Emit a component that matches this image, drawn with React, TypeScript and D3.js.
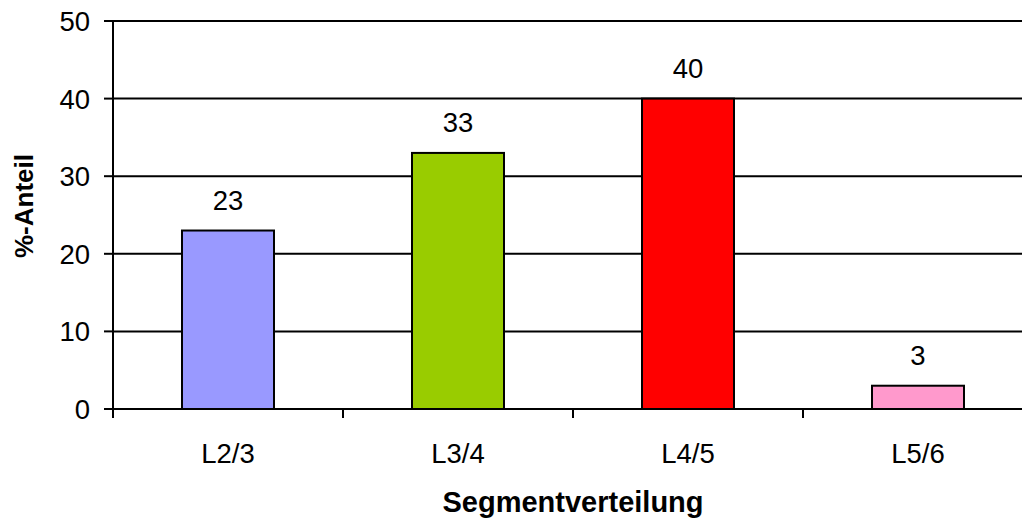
import React from "react";
import * as d3 from "d3";

const categories = ["L2/3", "L3/4", "L4/5", "L5/6"];
const values = [23, 33, 40, 3];
const barColors = ["#9999FF", "#99CC00", "#FF0000", "#FF99CC"];
const yTicks = [0, 10, 20, 30, 40, 50];

const W = 1022;
const H = 519;
const left = 113;
const right = 1033;
const top = 21;
const bottom = 409;
const font = "'Liberation Sans', Arial, sans-serif";
const fs = 27.5;

export default function App() {
  const x = d3.scaleBand<string>().domain(categories).range([left, right]).paddingInner(0.6).paddingOuter(0.3);
  const band = d3.scaleBand<string>().domain(categories).range([left, right]);
  const y = d3.scaleLinear().domain([0, 50]).range([bottom, top]);

  return (
    <svg width={W} height={H} style={{ position: "absolute", left: 0, top: 0 }}>
      <rect width={W} height={H} fill="#fff" />
      {yTicks.map((t) => (
        <g key={t}>
          <line x1={left} x2={right} y1={y(t)} y2={y(t)} stroke="#000" strokeWidth={2} />
          <line x1={104} x2={left} y1={y(t)} y2={y(t)} stroke="#000" strokeWidth={2} />
          <text x={90} y={y(t) + 10} textAnchor="end" fontFamily={font} fontSize={fs} fill="#000">
            {t}
          </text>
        </g>
      ))}
      {categories.map((c, i) => (
        <g key={c}>
          <rect
            x={x(c)!}
            y={y(values[i])}
            width={x.bandwidth()}
            height={bottom - y(values[i])}
            fill={barColors[i]}
            stroke="#000"
            strokeWidth={2}
          />
          <text
            x={x(c)! + x.bandwidth() / 2}
            y={y(values[i]) - 21}
            textAnchor="middle"
            fontFamily={font}
            fontSize={fs}
            fill="#000"
          >
            {values[i]}
          </text>
          <text
            x={band(c)! + band.bandwidth() / 2}
            y={463}
            textAnchor="middle"
            fontFamily={font}
            fontSize={fs}
            fill="#000"
          >
            {c}
          </text>
        </g>
      ))}
      {categories.map((c) => (
        <line key={"t" + c} x1={band(c)!} x2={band(c)!} y1={bottom} y2={bottom + 9} stroke="#000" strokeWidth={2} />
      ))}
      <line x1={left} x2={left} y1={top} y2={bottom + 9} stroke="#000" strokeWidth={2} />
      <text
        x={(left + right) / 2}
        y={512}
        textAnchor="middle"
        fontFamily={font}
        fontSize={29}
        fontWeight="bold"
        fill="#000"
      >
        Segmentverteilung
      </text>
      <text
        transform={`translate(33, 206) rotate(-90)`}
        textAnchor="middle"
        fontFamily={font}
        fontSize={26}
        fontWeight="bold"
        fill="#000"
      >
        %-Anteil
      </text>
    </svg>
  );
}
